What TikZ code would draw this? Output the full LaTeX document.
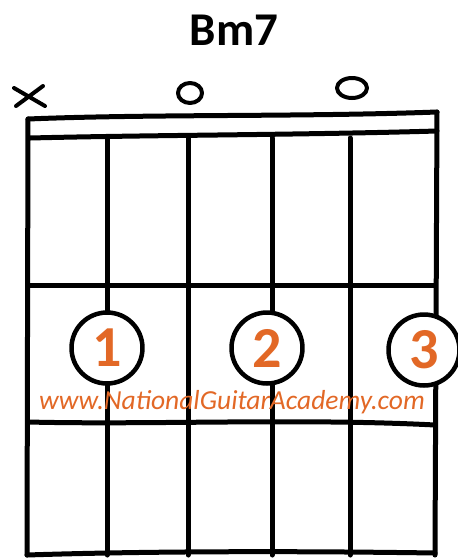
\documentclass[tikz,border=0pt]{standalone}
\usepackage{fontspec}
\setmainfont{Carlito}
\definecolor{ngaorange}{RGB}{226,104,38}
\tikzset{
  finger/.style={circle, draw, fill=white, line width=4.5pt, minimum size=71pt,
    inner sep=0pt, text=ngaorange, font=\fontsize{58}{58}\selectfont\bfseries},
  marker/.style={line width=4pt}
}
\begin{document}
\begin{tikzpicture}[x=1pt,y=-1pt,line width=5pt,line cap=round,line join=round]
\useasboundingbox (0,0) rectangle (458,558);
\node (title) at (234,30) {\fontsize{47}{49}\selectfont\bfseries Bm7};
% muted and open strings
\draw[marker] (14,88) -- (45,106) (16,106) -- (43,86);
\draw[marker] (190,93) ellipse (12 and 10);
\draw[marker] (352,88) ellipse (15 and 10);
% nut
\draw (28,119) .. controls (150,114) and (300,117) .. (437,112);
\draw (30,138) .. controls (150,135) and (300,135) .. (437,131);
% strings and frets
\draw (28,119) -- (27,555);
\draw (437,112) -- (435,555);
\foreach \x in {107,188,272,350}
  \draw (\x,138) -- (\x,555);
\draw (28,285) -- (435,285);
\draw (28,422) .. controls (150,425) and (300,418) .. (435,425);
\draw (27,555) .. controls (150,551) and (300,551) .. (435,553);
% fingers
\node[finger] (f1) at (107,348) {1};
\node[finger] (f2) at (267,348) {2};
\node[finger] (f3) at (424,350) {3};
\node[text=ngaorange, font=\fontsize{27.5}{27.5}\selectfont\itshape] (url) at (232,402) {www.NationalGuitarAcademy.com};
\end{tikzpicture}
\end{document}
